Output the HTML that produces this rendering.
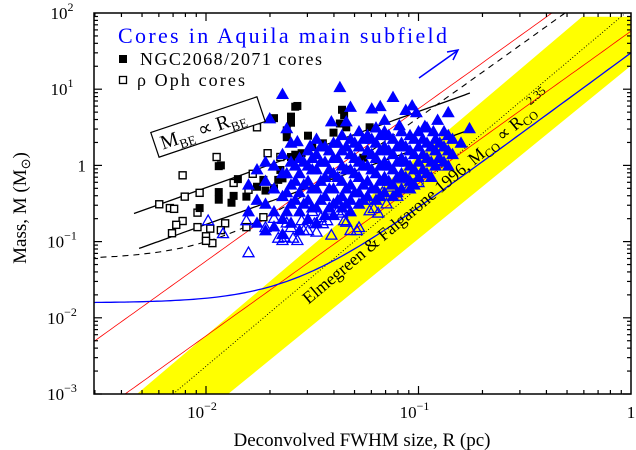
<!DOCTYPE html>
<html><head><meta charset="utf-8"><style>
html,body{margin:0;padding:0;background:#fff;}
svg{display:block;font-family:"Liberation Serif",serif;}
</style></head><body>
<svg id="chart" width="636" height="450" viewBox="0 0 636 450" xmlns="http://www.w3.org/2000/svg">
<defs><clipPath id="plotclip"><rect x="94" y="13" width="537" height="381"/></clipPath></defs>
<g id="plot" clip-path="url(#plotclip)"></g>
<g id="marks" clip-path="url(#plotclip)"></g>
<rect x="94" y="13" width="537" height="381" fill="none" stroke="#000" stroke-width="1.5"/>
<g id="ticks"></g>
<g id="labels" font-size="17"></g>
<text x="362" y="446" font-size="19" text-anchor="middle">Deconvolved FWHM size, R (pc)</text>
<text transform="translate(26,208) rotate(-90)" font-size="19" text-anchor="middle">Mass, M (M<tspan font-size="13" dy="4">⊙</tspan><tspan dy="-4">)</tspan></text>
<text x="118" y="43" font-size="22" fill="#0000ff" textLength="329">Cores in Aquila main subfield</text>
<rect x="119" y="55" width="8" height="8" fill="#000"/>
<text x="140" y="65" font-size="18" textLength="182">NGC2068/2071 cores</text>
<rect x="119.5" y="76.5" width="7" height="7" fill="none" stroke="#000" stroke-width="1.3"/>
<text x="137" y="86" font-size="18" textLength="108">ρ Oph cores</text>
<g transform="translate(208,127) rotate(-18.6)">
<rect x="-56" y="-13" width="112" height="26" fill="#fff" stroke="#000" stroke-width="1.2"/>
<text x="-50" y="7" font-size="20">M<tspan font-size="13" dy="5">BE</tspan><tspan dy="-5"> ∝ R</tspan><tspan font-size="13" dy="5">BE</tspan></text>
</g>
<g transform="translate(418,205) rotate(-40)">
<text x="-148" y="6" font-size="17.5">Elmegreen &amp; Falgarone 1996, M<tspan font-size="12" dy="4">CO</tspan><tspan dy="-4"> ∝ R</tspan><tspan font-size="12" dy="4">CO</tspan><tspan font-size="12" dy="-14">2.35</tspan></text>
</g>
<g>
<line x1="419" y1="78" x2="457" y2="51" stroke="#0000ff" stroke-width="1.5"/>
<polyline points="447,52 458,50 453,60" fill="none" stroke="#0000ff" stroke-width="1.5"/>
</g>
</svg>
<script>
// ---- data (log10 R [pc], log10 M [Msun]) ----
const ophLogR=[-1.76,-1.95,-2.11,-2.22,-2.17,-2.15,-2.10,-2.03,-2.04,-2.11,-2.14,-2.16,-2.04,-1.98,-2.00,-1.97,-2.00,-1.91,-1.93,-1.87,-1.78,-1.80,-1.71,-1.65,-1.73,-1.81];
const ophLogM=[0.50,0.11,-0.13,-0.51,-0.56,-0.57,-0.41,-0.36,-0.62,-0.73,-0.78,-0.89,-0.81,-0.83,-0.93,-1.02,-0.99,-0.76,-0.85,-0.23,-0.11,-0.32,0.16,0.11,-0.68,-0.81];
const ngcLogR=[-1.94,-1.94,-1.94,-1.87,-1.85,-1.88,-1.81,-1.76,-1.73,-2.03,-1.62,-1.60,-1.58,-1.57,-1.65,-1.64,-1.72,-1.60,-1.68,-1.52,-1.62,-1.45,-1.60,-1.58,-1.93,-1.36,-1.35,-1.34,-1.40,-1.55,-1.50,-1.26,-1.66,-1.68,-1.23,-1.37];
const ngcLogM=[-0.01,-0.35,-0.45,-0.40,-0.18,-0.49,-0.41,-0.28,-0.19,-0.56,0.46,0.56,0.77,0.78,-0.06,-0.17,-0.33,0.64,0.62,0.39,0.37,0.29,0.11,0.14,0.00,0.73,0.66,0.50,0.43,0.16,0.24,0.10,-0.19,-0.30,0.50,0.55];
const aqFillLogR=[-1.92,-1.64,-1.70,-1.37,-1.32,-1.22,-1.18,-1.12,-1.03,-0.86,-0.76,-1.41,-1.34,-1.16,-0.91,-0.97,-1.09,-1.06,-1.01,-0.93,-1.57,-1.62,-1.51,
-1.80,-1.80,-1.76,-1.76,-1.76,-1.72,-1.72,-1.72,-1.72,-1.68,-1.68,-1.68,-1.68,-1.64,-1.64,-1.64,-1.64,-1.64,-1.60,-1.60,-1.60,-1.60,-1.60,
-1.56,-1.56,-1.56,-1.56,-1.56,-1.52,-1.52,-1.52,-1.52,-1.52,-1.48,-1.48,-1.48,-1.48,-1.48,-1.48,-1.44,-1.44,-1.44,-1.44,-1.44,
-1.40,-1.40,-1.40,-1.40,-1.40,-1.40,-1.36,-1.36,-1.36,-1.36,-1.36,-1.36,-1.32,-1.32,-1.32,-1.32,-1.32,-1.32,-1.28,-1.28,-1.28,-1.28,-1.28,-1.28,
-1.24,-1.24,-1.24,-1.24,-1.24,-1.20,-1.20,-1.20,-1.20,-1.20,-1.20,-1.16,-1.16,-1.16,-1.16,-1.16,-1.12,-1.12,-1.12,-1.12,-1.12,
-1.08,-1.08,-1.08,-1.08,-1.08,-1.04,-1.04,-1.04,-1.04,-1.04,-1.00,-1.00,-1.00,-1.00,-0.96,-0.96,-0.96,-0.96,-0.92,-0.92,-0.92,-0.88,-0.88,-0.88,-0.84,-0.84,-0.80,
-1.62,-1.62,-1.62,-1.54,-1.54,-1.54,-1.46,-1.46,-1.46,-1.46,-1.38,-1.38,-1.38,-1.38,-1.30,-1.30,-1.30,-1.30,-1.22,-1.22,-1.22,-1.22,-1.14,-1.14,-1.14,-1.14,-1.06,-1.06,-1.06,-0.98,-0.98,-0.98,-0.90,-0.90,
-1.58,-1.58,-1.58,-1.50,-1.50,-1.50,-1.50,-1.42,-1.42,-1.42,-1.42,-1.34,-1.34,-1.34,-1.34,-1.26,-1.26,-1.26,-1.26,-1.18,-1.18,-1.18,-1.18,-1.18,
-1.10,-1.10,-1.10,-1.10,-1.02,-1.02,-1.02,-1.02,-0.94,-0.94,-0.94,-0.86,-0.86,-0.86];
const aqFillLogM=[0.67,0.94,0.62,1.03,0.77,0.75,0.78,0.90,0.79,0.70,0.49,0.58,0.58,0.60,0.60,0.52,0.53,0.73,0.70,0.45,0.32,0.49,0.26,
-0.60,-0.25,-0.45,-0.05,-0.75,-0.50,-0.20,0.05,-0.85,-0.30,-0.60,0.00,-0.80,-0.40,-0.10,0.15,-0.70,-0.90,-0.50,-0.25,0.05,0.30,-0.75,
-0.60,-0.35,-0.10,0.10,-0.85,-0.45,-0.20,0.00,0.20,-0.70,-0.55,-0.30,-0.05,0.15,0.35,-0.75,-0.40,-0.15,0.05,0.25,-0.65,
-0.50,-0.30,-0.10,0.10,0.30,-0.65,-0.40,-0.20,0.00,0.20,0.40,-0.55,-0.45,-0.25,-0.05,0.15,0.35,-0.60,-0.35,-0.15,0.05,0.25,0.45,-0.50,
-0.40,-0.20,0.00,0.20,0.40,-0.30,-0.10,0.10,0.30,0.50,-0.45,-0.35,-0.15,0.05,0.25,0.45,-0.25,-0.05,0.15,0.35,-0.40,
-0.30,-0.10,0.10,0.30,0.45,-0.20,0.00,0.20,0.40,-0.30,-0.15,0.05,0.25,0.45,-0.10,0.10,0.30,0.50,0.00,0.20,0.35,0.05,0.25,0.45,0.15,0.35,0.30,
-0.60,-0.35,-0.10,-0.50,-0.25,0.05,-0.45,-0.20,0.05,0.25,-0.45,-0.15,0.10,0.30,-0.35,-0.10,0.10,0.30,-0.30,-0.05,0.15,0.35,-0.20,0.00,0.20,0.40,-0.15,0.05,0.25,-0.05,0.15,0.35,0.10,0.30,
-0.45,-0.20,0.00,-0.55,-0.30,-0.05,0.10,-0.55,-0.30,-0.05,0.20,-0.50,-0.30,-0.05,0.25,-0.45,-0.25,0.00,0.35,-0.40,-0.20,0.00,0.20,0.40,
-0.35,-0.15,0.05,0.25,-0.25,-0.05,0.15,0.35,-0.15,0.05,0.25,0.00,0.20,0.40];
const aqOpenLogR=[-1.99,-1.92,-1.80,-1.81,-1.68,-1.66,-1.64,-1.57,-1.60,-1.54,-1.48,-1.45,-1.41,-1.34,-1.29,-1.17,-1.21,-0.91,
-1.72,-1.63,-1.59,-1.55,-1.52,-1.49,-1.43,-1.38,-1.35,-1.32,-1.28,-1.23,-1.09,-1.62,-1.50,-1.46,-1.42,-1.36,-1.25,-1.19,-1.15,-1.13,-1.10,-1.05,-1.03,-1.00];
const aqOpenLogM=[-0.72,-0.89,-1.14,-0.72,-0.69,-0.95,-0.98,-0.98,-0.81,-0.85,-0.87,-0.76,-0.91,-0.74,-0.85,-0.35,-0.56,0.07,
-0.81,-0.94,-0.95,-0.72,-0.85,-0.76,-0.72,-0.59,-0.72,-0.85,-0.81,-0.59,-0.17,-0.75,-0.60,-0.68,-0.58,-0.62,-0.45,-0.62,-0.50,-0.28,-0.40,-0.30,-0.12,-0.22];
const xTickValues=[-2,-1,0];
const xTickLabels=["10","10","1"];
const xTickExps=["−2","−1",""];
const yTickValues=[2,1,0,-1,-2,-3];
const yTickLabels=["10","10","1","10","10","10"];
const yTickExps=["2","1","","−1","−2","−3"];
// model line parameters (log10 space)
const beUpperCoef=51, beLowerCoef=16.8, beRange=[-2.339,-0.758];
const redUpperCoef=555, redLowerCoef=57.8;
const dashedFloor=0.058, dashedCoef=417;
const blueFloor=0.0157, blueCoef=30, bluePow=2.05;
const efBand=[[-2.325,-3],[-0.23,1.95],[0,1.95],[0,1.31],[-1.896,-3]];
const efDotted=[[-2.155,-3],[0,2.06]];

const NS="http://www.w3.org/2000/svg";
const X=lr=>631+212.5*lr;
const Y=lm=>394-76.2*(lm+3);
function mk(tag,attrs,parent){const e=document.createElementNS(NS,tag);for(const k in attrs)e.setAttribute(k,attrs[k]);parent.appendChild(e);return e;}
const plot=document.getElementById('plot'), marks=document.getElementById('marks');
let band=mk('polygon',{points:efBand.map(p=>X(p[0])+','+Y(p[1])).join(' '),fill:'#ffff00'},plot);


let dot=mk('line',{x1:X(efDotted[0][0]),y1:Y(efDotted[0][1]),x2:X(efDotted[1][0]),y2:Y(efDotted[1][1]),stroke:'#000','stroke-width':0.9,'stroke-dasharray':'1,2'},plot);


function curve(f,lo,hi,attrs,name){
  let pts=[];for(let i=0;i<=120;i++){const lr=lo+(hi-lo)*i/120;pts.push(X(lr).toFixed(1)+','+Y(Math.log10(f(Math.pow(10,lr)))).toFixed(1));}
  const e=mk('polyline',Object.assign({points:pts.join(' '),fill:'none'},attrs),plot);
  
  
}
curve(R=>redUpperCoef*R*R,-2.6,0,{stroke:'#ff0000','stroke-width':0.8},'red-line-upper');
curve(R=>redLowerCoef*R*R,-2.6,0,{stroke:'#ff0000','stroke-width':0.8},'red-line-lower');
curve(R=>blueFloor+blueCoef*Math.pow(R,bluePow),-2.6,0,{stroke:'#0000ff','stroke-width':1.3},'blue-curve');
curve(R=>dashedFloor+dashedCoef*R*R,-2.6,-0.2,{stroke:'#000','stroke-width':1.1,'stroke-dasharray':'6,5'},'dashed-curve');
curve(R=>beUpperCoef*R,beRange[0],beRange[1],{stroke:'#000','stroke-width':1.3},'be-line-upper');
curve(R=>beLowerCoef*R,-2.315,-0.767,{stroke:'#000','stroke-width':1.3},'be-line-lower');
ophLogR.forEach((lr,i)=>{const x=X(lr),y=Y(ophLogM[i]);
  const e=mk('rect',{x:x-3.5,y:y-3.5,width:7,height:7,fill:'#fff',stroke:'#000','stroke-width':1.4},marks);
  
  });
ngcLogR.forEach((lr,i)=>{const x=X(lr),y=Y(ngcLogM[i]);
  const e=mk('rect',{x:x-4,y:y-4,width:8,height:8,fill:'#000'},marks);
  
  });
function tri(x,y,s){return (x-s)+','+(y+s*0.8)+' '+(x+s)+','+(y+s*0.8)+' '+x+','+(y-s*0.95);}
aqOpenLogR.forEach((lr,i)=>{const x=X(lr),y=Y(aqOpenLogM[i]);
  const e=mk('polygon',{points:tri(x,y,5.5),fill:'none',stroke:'#0000ff','stroke-width':1.3},marks);
  
  });
aqFillLogR.forEach((lr,i)=>{const x=X(lr),y=Y(aqFillLogM[i]);
  const e=mk('polygon',{points:tri(x,y,6.5),fill:'#0000ff'},marks);
  
  });
const tk=document.getElementById('ticks'), lb=document.getElementById('labels');
for(let d=-3;d<0;d++)for(let m=1;m<10;m++){const lr=d+Math.log10(m);if(lr<-2.527)continue;const x=X(lr),L=m==1?8:4;
  mk('line',{x1:x,y1:394,x2:x,y2:394-L,stroke:'#000','stroke-width':1.2},tk);
  mk('line',{x1:x,y1:13,x2:x,y2:13+L,stroke:'#000','stroke-width':1.2},tk);}
for(let d=-3;d<2;d++)for(let m=1;m<10;m++){const y=Y(d+Math.log10(m)),L=m==1?8:4;
  mk('line',{x1:94,y1:y,x2:94+L,y2:y,stroke:'#000','stroke-width':1.2},tk);
  mk('line',{x1:631,y1:y,x2:631-L,y2:y,stroke:'#000','stroke-width':1.2},tk);}
xTickValues.forEach((v,i)=>{const t=mk('text',{x:X(v)+(xTickExps[i]?-4:0),y:418,'text-anchor':'middle'},lb);
  t.textContent=xTickLabels[i];
  if(xTickExps[i]){const s=mk('tspan',{'font-size':12,dy:-8},t);s.textContent=xTickExps[i];}
  
  });
yTickValues.forEach((v,i)=>{const t=mk('text',{x:yTickExps[i]?62:86,y:Y(v)+6,'text-anchor':yTickExps[i]?'middle':'end'},lb);
  t.textContent=yTickLabels[i];
  if(yTickExps[i]){const s=mk('tspan',{'font-size':12,dy:-8},t);s.textContent=yTickExps[i];}
  
  });
</script>
</body></html>
